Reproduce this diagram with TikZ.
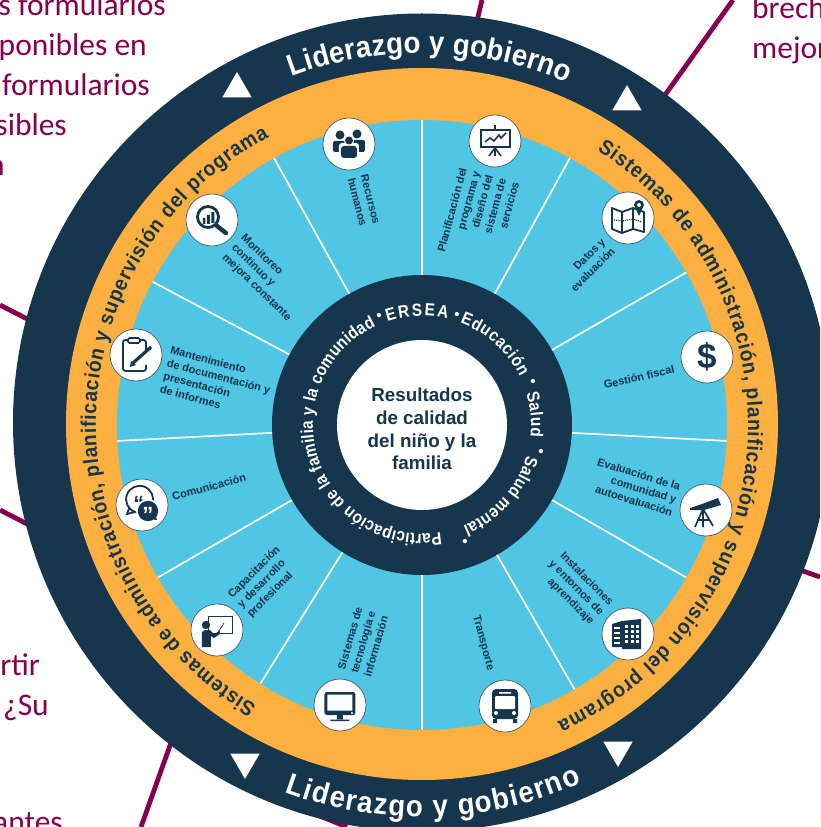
\documentclass[tikz,border=0pt]{standalone}
\usepackage{fontspec}
\setmainfont{Liberation Sans}
\newfontfamily\notefont{Carlito}
\newfontfamily\tightfont[FakeStretch=0.92]{Liberation Sans}
\newfontfamily\hubfamily[FakeStretch=0.88]{Liberation Sans}
\usetikzlibrary{shapes.geometric}
\usetikzlibrary{positioning}
\usetikzlibrary{decorations.text}
\definecolor{navy}{HTML}{15364C}
\definecolor{gold}{HTML}{FDAF3F}
\definecolor{sky}{HTML}{50C5E4}
\definecolor{plum}{HTML}{85004F}
\newcommand{\outerfont}{\tightfont\fontsize{30}{30}\selectfont\bfseries\color{white}}
\newcommand{\goldfont}{\tightfont\fontsize{21}{21}\selectfont\bfseries\color{navy}}
\newcommand{\hubfont}{\hubfamily\fontsize{17.5}{18}\selectfont\bfseries\color{white}}
\tikzset{
peopleicon/.pic={
 \fill[navy] (-9,9) circle (4.5) (8,10) circle (4.5);
 \fill[navy,rounded corners=2] (-16,-8) rectangle (-1,3) (0,-8) rectangle (16,4);
 \fill[white,rounded corners=3] (-10,-15) rectangle (10,1);
 \fill[white] (0,3.5) circle (5.2);
 \fill[navy] (0,3.5) circle (4);
 \fill[navy,rounded corners=3] (-8,-14) rectangle (8,-2);},
boardicon/.pic={
 \draw[navy,line width=2.6] (-14,-6) rectangle (15,11) (0,11) -- (0,16);
 \draw[navy,line width=1.6] (0,-7) -- (-6,-15) (0,-7) -- (0,-15) (0,-7) -- (6,-15);
 \draw[navy,line width=1.6] (-10,-1) -- (-5,3) -- (-1,0) -- (4,6) -- (6,3) -- (11,8);},
mapicon/.pic={
 \draw[navy,line width=1.8,line join=round] (-16,10) -- (-6,6) -- (5,10) -- (16,6) -- (16,-14) -- (5,-11) -- (-6,-15) -- (-16,-11) -- cycle;
 \draw[navy,line width=1.4] (-6,6) -- (-6,-15) (5,10) -- (5,-11);
 \draw[navy,line width=1.2,densely dotted] (-14,-2) -- (-6,-3) -- (5,-1) -- (14,-4);
 \fill[navy] (6,13) -- (11,2) -- (16,13) arc[start angle=0,end angle=180,radius=5] -- cycle;
 \fill[white] (11,13) circle (2);},
dollaricon/.pic={\node[navy,font=\fontsize{35}{35}\selectfont\bfseries] (dollarsign) at (0,0) {\$};},
scopeicon/.pic={
 \fill[navy] (-16,0) -- (-16,2) -- (-4,6) -- (12,12) -- (15,5) -- (-2,0) -- cycle;
 \draw[navy,line width=1.7] (-3,1) -- (-11,-17) (-3,1) -- (-3,-17) (-3,1) -- (7,-16) (-9,-10) -- (3,-10);},
buildicon/.pic={
 \fill[navy] (-16,-13) -- (-16,10) -- (-6,13) -- (-6,-13) -- cycle;
 \fill[navy] (-6,13) -- (-6,-15) -- (13,-15) -- (13,15) -- cycle;
 \foreach \wy in {5,0,-5,-10} {\fill[white] (-14,\wy) rectangle (-8,\wy+2.4);}
 \foreach \wx in {-3,3,8} \foreach \wy in {6,1,-4,-9} {\fill[white] (\wx,\wy) rectangle (\wx+3,\wy+2.6);}},
busicon/.pic={
 \fill[navy,rounded corners=4] (-13,-13) rectangle (13,17);
 \fill[navy] (-12,-13) rectangle (-8,-17) (8,-13) rectangle (12,-17);
 \fill[white,rounded corners=1] (-10,10) rectangle (10,-3);
 \fill[white] (-6,14) rectangle (6,12.5) (-9,-7) circle (2) (9,-7) circle (2);},
screenicon/.pic={
 \fill[navy,rounded corners=2.5] (-15.5,-10) rectangle (15.5,13);
 \fill[white] (-12.5,10.5) rectangle (12.5,-5.5) (12,-8) circle (1.2);
 \fill[navy] (-3,-10) rectangle (3,-14) (-9.5,-14.5) rectangle (9.5,-16);},
teachicon/.pic={
 \fill[white,draw=navy,line width=1] (-8,14) rectangle (16,-3);
 \fill[navy] (-11,5) circle (4.2);
 \fill[navy] (-15,-17) -- (-15,-2) -- (-12,0) -- (-7,0) -- (-3,-4) -- (3,-1) -- (3,-4) -- (-3,-8) -- (-6,-6) -- (-6,-17) -- cycle;
 \draw[navy,line width=.7] (0,-4) -- (7,7);},
speechicon/.pic={
 \draw[navy,line width=1.8] (-7,-7) arc[start angle=250,end angle=-140,radius=13.5] -- (-15,-9) -- cycle;
 \node[navy,font=\fontsize{22}{22}\selectfont\bfseries] (openquote) at (-3,1) {“};
 \fill[white] (6,-6) circle (12);
 \fill[navy] (6,-6) circle (10.2) (9,-14) -- (15,-15) -- (13,-8) -- cycle;
 \node[white,font=\fontsize{22}{22}\selectfont\bfseries] (closequote) at (6,-10) {”};},
clipicon/.pic={
 \draw[navy,line width=1.8,rounded corners=2.5] (-13,15) rectangle (10,-16);
 \fill[white] (-2,-11) -- (12,4) -- (18,4) -- (18,-6) -- (4,-13) -- cycle;
 \fill[white,draw=navy,line width=1.6,rounded corners=1.5] (-8,17) rectangle (4,12);
 \draw[navy,line width=3.2] (-3,-8) -- (15,8);
 \fill[navy] (-6,-12) -- (-5,-6) -- (0,-10) -- cycle;},
lensicon/.pic={
 \draw[navy,line width=2.8] (-4,3) circle (10.5);
 \draw[navy,line width=4.4,line cap=round] (5,-6) -- (14,-13);
 \fill[navy] (-9,-4) rectangle (-6.5,2) (-5,-4) rectangle (-2,5) (-0.5,-3) rectangle (2.5,8);},
}
\begin{document}
\begin{tikzpicture}[
x=1pt,y=1pt,
disc/.style={circle,inner sep=0,outer sep=0},
spoke/.style={draw=white,line width=1.7},
link/.style={draw=plum,line width=4.8},
note/.style={font=\notefont\fontsize{31.5}{32}\selectfont,text=plum,inner sep=0,anchor=base east},
badge/.style={circle,minimum size=52pt,inner sep=0,draw=navy!80,line width=.7,fill=white},
area/.style={font=\fontsize{11}{13.5}\selectfont\bfseries,text=navy,inner sep=0},
hubdot/.style={font=\fontsize{15}{15}\selectfont\bfseries,text=white,inner sep=0},
rimarc/.style={decorate,decoration={text along path,text align={fit to path},text={|\outerfont|#1}}},
goldarc/.style={decorate,decoration={text along path,text align={fit to path},text={|\goldfont|#1}}},
hubarc/.style={decorate,decoration={text along path,text align={fit to path},text={|\hubfont|#1}}},
arrowmark/.style={regular polygon,regular polygon sides=3,minimum size=34pt,inner sep=0,fill=white}]
\path[use as bounding box,clip] (-422,-402) rectangle (398,425);
% leftovers of the page behind the wheel
\draw[link] (60,425) -- (54,400);
\draw[link] (311,425) -- (238,323);
\draw[link] (-422,120) -- (-387,102);
\draw[link] (-422,-85) -- (-387,-103);
\draw[link] (378,-145) -- (398,-152);
\draw[link] (-250,-315) -- (-281,-402);
\draw[link] (-112,-387) -- (-75,-402);
\node[note] (note1) at (-256,409) {s formularios};
\node[note] (note2) at (-275,369) {ponibles en};
\node[note] (note3) at (-272,329) {formularios};
\node[note] (note4) at (-355,289) {sibles};
\node[note] (note5) at (-417,249) {n};
\node[note,anchor=base west] (note6) at (330,406) {brech};
\node[note,anchor=base west] (note7) at (330,366) {mejor};
\node[note] (note8) at (-382,-250) {rtir};
\node[note] (note9) at (-373,-290) {¿Su};
\node[note] (note10) at (-359,-407) {antes};
% rings
\node[disc,minimum size=818pt,fill=navy] (rim) at (0,2.5) {};
\node[disc,minimum size=712pt,fill=gold] (band) at (0,1) {};
\node[disc,minimum size=610pt,fill=sky] (field) at (0,0) {};
\node[disc,minimum size=300pt,fill=navy] (hub) at (0,0) {};
\node[disc,minimum size=170pt,fill=white] (core) at (0,0) {};
\node[align=center,inner sep=0,text=navy,font=\fontsize{18.8}{22.7}\selectfont\bfseries] (result) at (0,-4) {Resultados\\de calidad\\del niño y la\\familia};
\foreach \ang in {90,61,30,-3.6,-30,-60,-90,-122,-150,183.5,152.5,119}
 \draw[spoke] (hub.\ang) -- (field.\ang);
% curved texts
\path[rimarc={Liderazgo y gobierno}] (110.5:372) arc[start angle=110.5,end angle=67,radius=372];
\path[rimarc={Liderazgo y gobierno}] (-110.5:392) arc[start angle=-110.5,end angle=-66,radius=392];
\path[goldarc={Sistemas de administración, planificación y supervisión del programa}] (57.5:326) arc[start angle=57.5,end angle=-65.5,radius=326];
\path[goldarc={Sistemas de administración, planificación y supervisión del programa}] (-120.5:326) arc[start angle=-120.5,end angle=-242,radius=326];
\path[hubarc={Participación de la familia y la comunidad}] (-80:109) arc[start angle=-80,end angle=-245,radius=109];
\path[hubarc={ERSEA}] (108.5:109) arc[start angle=108.5,end angle=76.5,radius=109];
\path[hubarc={Educación}] (69.5:109) arc[start angle=69.5,end angle=26,radius=109];
\path[hubarc={Salud}] (17:109) arc[start angle=17,end angle=-6,radius=109];
\path[hubarc={Salud mental}] (-16:109) arc[start angle=-16,end angle=-68,radius=109];
\node[hubdot] (dotA) at (-43,108) {•};
\node[hubdot] (dotB) at (35,109) {•};
\node[hubdot] (dotC) at (111,42) {•};
\node[hubdot] (dotD) at (119,-28) {•};
\node[hubdot] (dotE) at (43,-118) {•};
% triangles
\node[arrowmark] (markA) at (-185,336) {};
\node[arrowmark] (markB) at (205,323) {};
\node[arrowmark,shape border rotate=180] (markC) at (-177,-337) {};
\node[arrowmark,shape border rotate=180] (markD) at (196,-325) {};
% badges
\node[badge] (people) at (-73,281) {};
\node[badge] (board) at (73,284) {};
\node[badge] (map) at (206,207) {};
\node[badge] (dollar) at (285,68) {};
\node[badge] (scope) at (284,-85) {};
\node[badge] (build) at (206,-209) {};
\node[badge] (bus) at (83,-281) {};
\node[badge] (screen) at (-82,-280) {};
\node[badge] (teach) at (-205,-205) {};
\node[badge] (speech) at (-280,-80) {};
\node[badge] (clip) at (-286,70) {};
\node[badge] (lens) at (-210,205) {};
\pic at (people) {peopleicon};
\pic at (board) {boardicon};
\pic at (map) {mapicon};
\pic at (dollar) {dollaricon};
\pic at (scope) {scopeicon};
\pic at (build) {buildicon};
\pic at (bus) {busicon};
\pic at (screen) {screenicon};
\pic at (teach) {teachicon};
\pic at (speech) {speechicon};
\pic at (clip) {clipicon};
\pic at (lens) {lensicon};
% sector labels
\node[area,align=left,rotate=-75.5] (recursos) at (-58,224) {Recursos\\humanos};
\node[area,align=right,rotate=75] (planes) at (56,208) {Planificación del\\programa y\\diseño del\\sistema de\\servicios};
\node[area,align=right,rotate=45] (datos) at (166,160) {Datos y\\evaluación};
\node[area,rotate=13] (fiscal) at (217,48) {Gestión fiscal};
\node[area,align=right,rotate=-17] (evalua) at (213,-62) {Evaluación de la\\comunidad y\\autoevaluación};
\node[area,align=right,rotate=-45] (instala) at (154,-163) {Instalaciones\\y entornos de\\aprendizaje};
\node[area,rotate=-75] (transporte) at (61,-218) {Transporte};
\node[area,align=left,rotate=74] (sistemas) at (-59,-217) {Sistemas de\\tecnología e\\información};
\node[area,align=left,rotate=45] (capacita) at (-158,-157) {Capacitación\\y desarrollo\\profesional};
\node[area,rotate=15] (comunica) at (-213,-62) {Comunicación};
\node[area,align=left,rotate=-15] (mantiene) at (-205,42) {Mantenimiento\\de documentación y\\presentación\\de informes};
\node[area,align=left,rotate=-44] (monitoreo) at (-156,147) {Monitoreo\\continuo y\\mejora constante};
\end{tikzpicture}
\end{document}
